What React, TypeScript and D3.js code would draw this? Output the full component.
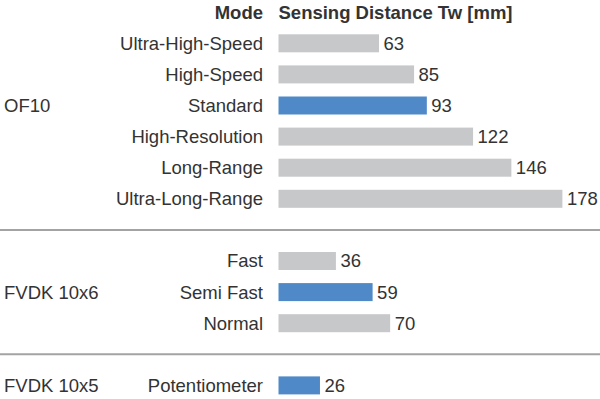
import React from 'react'
import * as d3 from 'd3'

const groups = ['OF10', 'FVDK 10x6', 'FVDK 10x5']
const modes = [
    ['Ultra-High-Speed', 'High-Speed', 'Standard', 'High-Resolution', 'Long-Range', 'Ultra-Long-Range'],
    ['Fast', 'Semi Fast', 'Normal'],
    ['Potentiometer'],
]
const distances = [
    [63, 85, 93, 122, 146, 178],
    [36, 59, 70],
    [26],
]
const highlighted = ['Standard', 'Semi Fast', 'Potentiometer']

const W = 600
const H = 399
const GRAY = '#c7c8ca'
const BLUE = '#4f89c8'
const TEXT = '#333333'
const FONT = '"Liberation Sans", Arial, Helvetica, sans-serif'

const App = () => {
    // slot 0 is the header, then each group's rows with an empty slot between groups
    const rows: { group: number; mode: string; value: number; slot: number }[] = []
    const gapSlots: number[] = []
    let slot = 1
    modes.forEach((list, g) => {
        if (g > 0) {
            gapSlots.push(slot)
            slot++
        }
        list.forEach((m, i) => {
            rows.push({ group: g, mode: m, value: distances[g][i], slot })
            slot++
        })
    })

    const y = d3.scalePoint<number>()
        .domain(d3.range(slot))
        .range([12.2, 12.2 + (slot - 1) * 31.1])
    const x = d3.scaleLinear()
        .domain([0, 178])
        .range([278.5, 562.4])
    const barH = 18

    return (
        <svg width={W} height={H} style={{ position: 'absolute', left: 0, top: 0 }} fontFamily={FONT} fontSize={18.5}>
            <rect width={W} height={H} fill="#fff" />
            <text x={263} y={y(0)} dy="0.35em" textAnchor="end" fontWeight="bold" fill={TEXT}>Mode</text>
            <text x={x(0)} y={y(0)} dy="0.35em" fontWeight="bold" fill={TEXT}>Sensing Distance Tw [mm]</text>
            {
                gapSlots.map((s) => (
                    <line key={s} x1={0} x2={W} y1={y(s)} y2={y(s)} stroke="#a3a3a3" strokeWidth={2} />
                ))
            }
            {
                groups.map((g, gi) => {
                    const gr = rows.filter((r) => r.group === gi)
                    const mid = gr[Math.floor((gr.length - 1) / 2)]
                    return (
                        <text key={g} x={4} y={y(mid.slot)} dy="0.35em" fill={TEXT}>{g}</text>
                    )
                })
            }
            {
                rows.map((r) => {
                    const cy = y(r.slot) as number
                    return (
                        <g key={r.mode}>
                            <text x={263} y={cy} dy="0.35em" textAnchor="end" fill={TEXT}>{r.mode}</text>
                            <rect x={x(0)} y={cy - barH / 2} width={x(r.value) - x(0)} height={barH}
                                fill={highlighted.includes(r.mode) ? BLUE : GRAY} />
                            <text x={x(r.value) + 4.5} y={cy} dy="0.35em" fill={TEXT}>{r.value}</text>
                        </g>
                    )
                })
            }
        </svg>
    )
}

export default App
